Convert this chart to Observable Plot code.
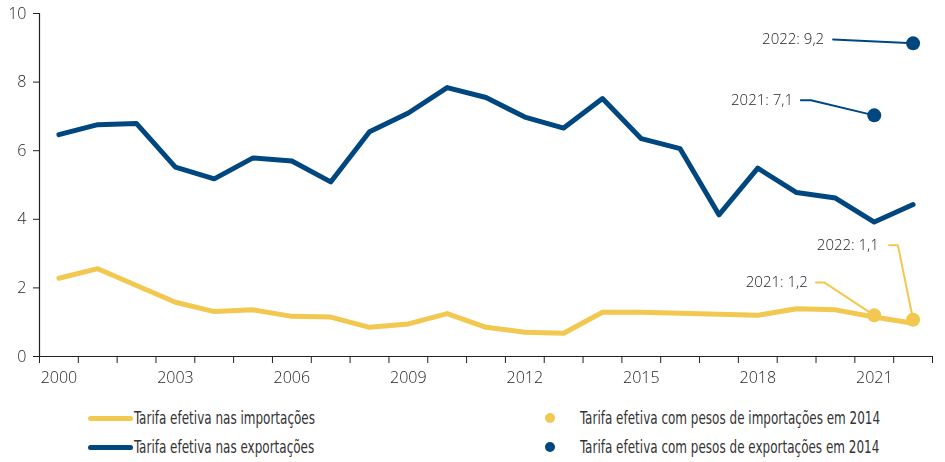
<!DOCTYPE html>
<html>
<head>
<meta charset="utf-8">
<script src="https://cdn.jsdelivr.net/npm/d3@7"></script>
<script src="https://cdn.jsdelivr.net/npm/@observablehq/plot@0.6"></script>
<style>
  body { margin: 0; background: #fff; }
  #wrap { position: relative; width: 945px; height: 462px; }
  #wrap svg { will-change: transform; transform: translateZ(0); }
  #wrap svg [aria-label$="tick label"] { font-size: 16px; font-family: 'Open Sans', sans-serif; font-weight: 300; }
  #wrap svg g[aria-label="text"] { font-weight: 300; }
  .legend { position: absolute; font-family: "DejaVu Sans Condensed", "Roboto", sans-serif; font-size: 17px; color: #333; white-space: nowrap; }
  .item { position: absolute; display: flex; align-items: center; }
  .sw-line { width: 45px; height: 5px; border-radius: 3px; margin-right: 1px; flex: none; }
  .sw-dot { width: 10px; height: 10px; border-radius: 50%; margin-left: -5px; margin-right: 25px; flex: none; }
  .txt { display: inline-block; transform-origin: 0 50%; }
</style>
</head>
<body>
<div id="wrap"></div>
<script>
const years = d3.range(2000, 2023);
const importTariff = [2.28, 2.56, 2.07, 1.58, 1.31, 1.36, 1.17, 1.15, 0.85, 0.95, 1.25, 0.85, 0.71, 0.68, 1.29, 1.29, 1.26, 1.23, 1.20, 1.39, 1.36, 1.15, 0.97];
const exportTariff = [6.47, 6.76, 6.79, 5.52, 5.18, 5.79, 5.70, 5.09, 6.55, 7.10, 7.84, 7.55, 6.98, 6.66, 7.52, 6.35, 6.06, 4.13, 5.49, 4.78, 4.62, 3.92, 4.43];
const weightYears = [2021, 2022];
const importWeighted = [1.20, 1.07];
const exportWeighted = [7.03, 9.13];
const importLabels = ["2021: 1,2", "2022: 1,1"];
const exportLabels = ["2021: 7,1", "2022: 9,2"];
const tickYears = [2000, 2003, 2006, 2009, 2012, 2015, 2018, 2021];
const yTicks = [0, 2, 4, 6, 8, 10];
const seriesNames = ["Tarifa efetiva nas importações", "Tarifa efetiva nas exportações", "Tarifa efetiva com pesos de importações em 2014", "Tarifa efetiva com pesos de exportações em 2014"];

const BLUE = "#00477f";
const YELLOW = "#f2c850";
const TEXT = "#262626";
const FONT = "'Open Sans', sans-serif";

// Annotation layout (label anchor + leader elbow, in data units)
const annImport = [
  {i: 0, tx: 2019.29, ty: 2.16, ex1: 2019.5, ex2: 2019.71},
  {i: 1, tx: 2021.12, ty: 3.24, ex1: 2021.38, ex2: 2021.61}
];
const annExport = [
  {i: 0, tx: 2018.91, ty: 7.47, ex1: 2019.11, ex2: 2019.37},
  {i: 1, tx: 2019.71, ty: 9.24, ex1: 2019.94, ex2: 2019.94}
];

const imp = years.map((y, i) => ({year: y, value: importTariff[i]}));
const exp = years.map((y, i) => ({year: y, value: exportTariff[i]}));
const impW = weightYears.map((y, i) => ({year: y, value: importWeighted[i], label: importLabels[i]}));
const expW = weightYears.map((y, i) => ({year: y, value: exportWeighted[i], label: exportLabels[i]}));

function leaders(ann, pts) {
  return ann.flatMap((a, k) => [
    {g: k, x: a.ex1, y: a.ty},
    {g: k, x: a.ex2, y: a.ty},
    {g: k, x: pts[a.i].year, y: pts[a.i].value}
  ]);
}
function labels(ann, pts) {
  return ann.map(a => ({x: a.tx, y: a.ty, label: pts[a.i].label}));
}

const boundaries = d3.range(1999.5, 2023, 1);

const chart = Plot.plot({
  width: 945,
  height: 395,
  marginLeft: 39,
  marginRight: 13,
  marginTop: 13,
  marginBottom: 39,
  style: {fontFamily: FONT, fontSize: "15px", color: "#222", background: "#fff"},
  x: {domain: [1999.5, 2022.5], axis: null},
  y: {domain: [0, 10], axis: null},
  marks: [
    Plot.axisY(yTicks, {tickSize: 6, tickPadding: 7, tickFormat: d => d, stroke: "#222", fill: TEXT, fontSize: 16, fontFamily: FONT}),
    Plot.axisX(boundaries, {tickSize: 7, tickFormat: () => "", stroke: "#222"}),
    Plot.axisX(tickYears, {tickSize: 0, tickPadding: 15, tickFormat: d => String(d), fill: TEXT, fontSize: 16, fontFamily: FONT}),
    Plot.ruleX([1999.5], {y1: 0, y2: 10, stroke: "#222", strokeWidth: 1.2}),
    Plot.ruleY([0], {stroke: "#222", strokeWidth: 1.2}),
    Plot.line(imp, {x: "year", y: "value", stroke: YELLOW, strokeWidth: 5, strokeLinejoin: "round", strokeLinecap: "round"}),
    Plot.line(exp, {x: "year", y: "value", stroke: BLUE, strokeWidth: 5, strokeLinejoin: "round", strokeLinecap: "round"}),
    Plot.line(leaders(annImport, impW), {x: "x", y: "y", z: "g", stroke: YELLOW, strokeWidth: 2}),
    Plot.line(leaders(annExport, expW), {x: "x", y: "y", z: "g", stroke: BLUE, strokeWidth: 2}),
    Plot.dot(impW, {x: "year", y: "value", r: 7, fill: YELLOW}),
    Plot.dot(expW, {x: "year", y: "value", r: 7, fill: BLUE}),
    Plot.text(labels(annImport, impW), {x: "x", y: "y", text: "label", textAnchor: "end", fill: TEXT, fontSize: 15, fontFamily: FONT}),
    Plot.text(labels(annExport, expW), {x: "x", y: "y", text: "label", textAnchor: "end", fill: TEXT, fontSize: 15, fontFamily: FONT})
  ]
});

const wrap = document.getElementById("wrap");
wrap.appendChild(chart);

const legend = document.createElement("div");
legend.className = "legend";
legend.style.left = "0px"; legend.style.top = "0px";
const items = [
  {name: seriesNames[0], type: "line", color: YELLOW, x: 88, y: 418},
  {name: seriesNames[1], type: "line", color: BLUE, x: 88, y: 447},
  {name: seriesNames[2], type: "dot", color: YELLOW, x: 550, y: 418},
  {name: seriesNames[3], type: "dot", color: BLUE, x: 550, y: 447}
];
const spans = [];
for (const it of items) {
  const d = document.createElement("div");
  d.className = "item";
  d.style.left = it.x + "px";
  d.style.top = (it.y - 10) + "px";
  d.style.height = "20px";
  const sw = document.createElement("span");
  sw.className = it.type === "line" ? "sw-line" : "sw-dot";
  sw.style.background = it.color;
  const t = document.createElement("span");
  t.className = "txt";
  t.textContent = it.name;
  d.appendChild(sw); d.appendChild(t);
  legend.appendChild(d);
  spans.push(t);
}
wrap.appendChild(legend);
// condense legend text to match the narrow face of the original
const targetWidth = 181;
const w0 = spans[0].getBoundingClientRect().width;
const k = w0 > 0 ? targetWidth / w0 : 1;
for (const s of spans) s.style.transform = `scaleX(${k})`;
</script>
</body>
</html>
